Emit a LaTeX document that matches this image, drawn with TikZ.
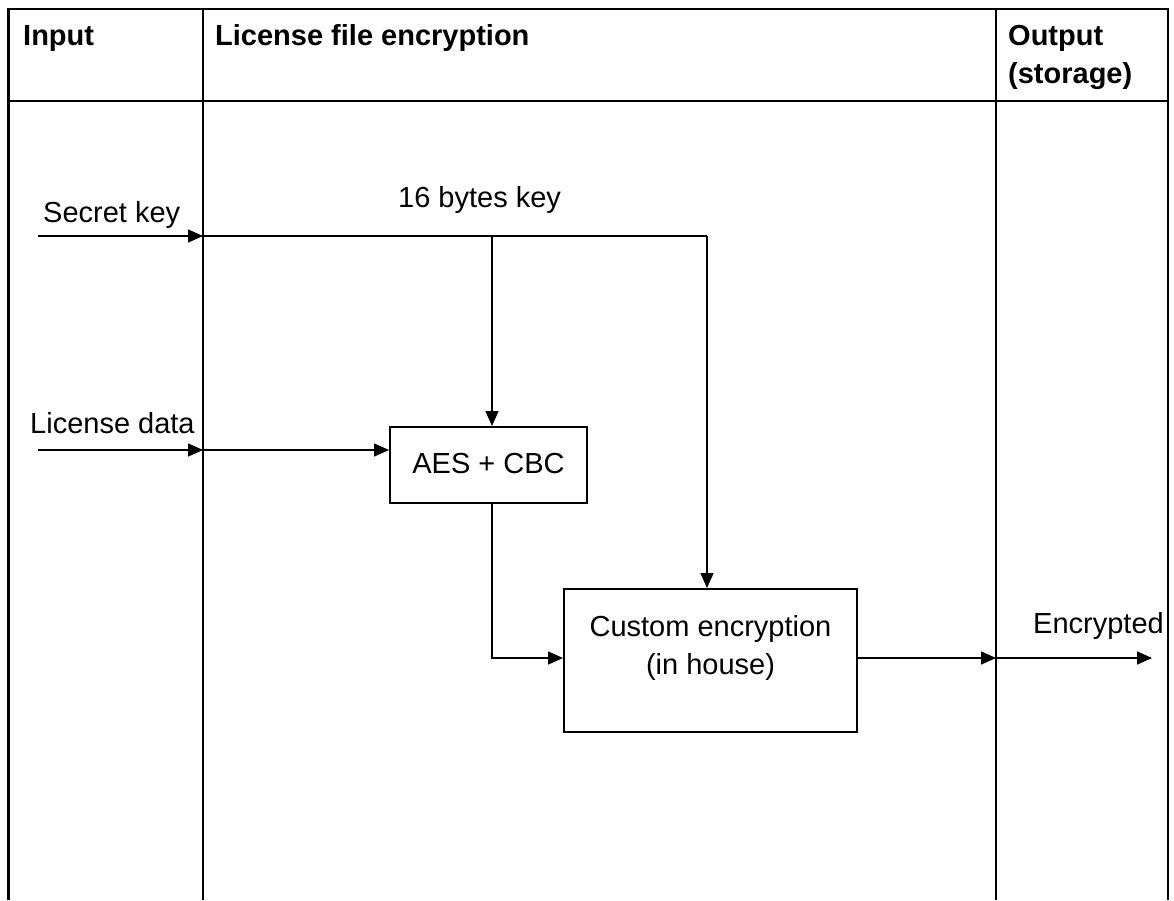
\documentclass[tikz,border=0pt]{standalone}
\usepackage{fontspec}
\setmainfont{Liberation Sans}
\usetikzlibrary{arrows.meta}
\begin{document}
\begin{tikzpicture}[x=1pt,y=-1pt,
  grid/.style={line width=2.2pt},
  flow/.style={line width=1.5pt,-{Triangle[length=15pt,width=13pt]}},
  plain/.style={line width=1.5pt},
  block/.style={draw,line width=2pt,rectangle,inner sep=0pt},
  txt/.style={inner sep=0pt,anchor=base west,font=\fontsize{29}{29}\selectfont},
  ctxt/.style={inner sep=0pt,anchor=base,font=\fontsize{29}{29}\selectfont},
  head/.style={inner sep=0pt,anchor=base west,font=\fontsize{29}{29}\selectfont\bfseries}]
\useasboundingbox (0,0) rectangle (1174,900);
\fill[white] (0,0) rectangle (1174,900);

% swimlane table
\draw[grid] (8.5,900) -- (8.5,9) -- (1168,9) -- (1168,900);
\draw[grid] (8.5,101) -- (1168,101);
\draw[grid] (203,9) -- (203,900);
\draw[grid] (996,9) -- (996,900);

% column headings
\node[head] (hin) at (23,45) {Input};
\node[head] (hlic) at (215,45) {License file encryption};
\node[head] (hout) at (1008,45) {Output};
\node[head] (hsto) at (1008,83) {(storage)};

% processing blocks
\node[block,minimum width=197pt,minimum height=76pt] (aes) at (488.5,465) {};
\node[ctxt] (aestxt) at (488.5,473) {AES + CBC};
\node[block,minimum width=293pt,minimum height=143pt] (cust) at (710.5,660.5) {};
\node[ctxt] (custa) at (710.5,636) {Custom encryption};
\node[ctxt] (custb) at (710.5,674) {(in house)};

% connector end points
\coordinate (ksrc) at (38,236);
\coordinate (klane) at (203,236);
\coordinate (ksplit) at (492,236);
\coordinate (kcorner) at (707,236);
\coordinate (dsrc) at (38,450);
\coordinate (dlane) at (203,450);
\coordinate (olane) at (996,658);
\coordinate (oend) at (1152,658);

% labels
\node[txt] (lsec) at (43,222) {Secret key};
\node[txt] (lkey) at (398,207) {16 bytes key};
\node[txt] (ldat) at (30,433) {License data};
\node[txt] (lenc) at (1033,633) {Encrypted};

% secret key path
\draw[flow] (ksrc) -- (klane);
\draw[plain] (klane) -- (kcorner);
\draw[flow] (ksplit) -- (aes.north -| ksplit);
\draw[flow] (kcorner) -- (cust.north -| kcorner);

% license data path
\draw[flow] (dsrc) -- (dlane);
\draw[flow] (dlane) -- (aes.west |- dlane);

% AES result into custom encryption
\draw[flow] (aes.south -| ksplit) |- (cust.west |- olane);

% encrypted output
\draw[flow] (cust.east |- olane) -- (olane);
\draw[flow] (olane) -- (oend);
\end{tikzpicture}
\end{document}
